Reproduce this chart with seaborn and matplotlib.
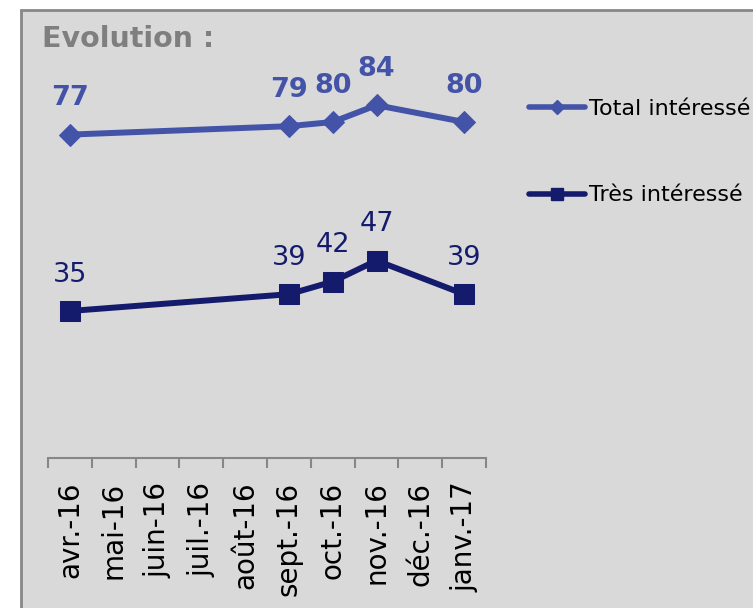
import numpy as np
import pandas as pd
import seaborn as sns
import matplotlib.pyplot as plt
from matplotlib.lines import Line2D
from matplotlib.patches import Rectangle


# Données
mois = ['avr.-16', 'mai-16', 'juin-16', 'juil.-16', 'août-16',
        'sept.-16', 'oct.-16', 'nov.-16', 'déc.-16', 'janv.-17']
mois_enquete = ['avr.-16', 'sept.-16', 'oct.-16', 'nov.-16', 'janv.-17']
total_interesse = [77, 79, 80, 84, 80]
tres_interesse = [35, 39, 42, 47, 39]

couleur_total = '#4353A8'
couleur_tres = '#151B6C'
fond = '#D9D9D9'
gris = '#878787'

df = pd.DataFrame({
    'x': [mois.index(m) for m in mois_enquete],
    'Total intéressé': total_interesse,
    'Très intéressé': tres_interesse,
})

sns.set_style('white')
plt.rcParams['font.family'] = ['DejaVu Sans']

W, H = 753, 608
fig = plt.figure(figsize=(W / 100, H / 100), dpi=100)
fig.patch.set_facecolor('white')

# cadre gris
fig.patches.append(Rectangle((20.5 / W, -0.1), 1.2, 1 - 10.5 / H + 0.1,
                             transform=fig.transFigure, facecolor=fond,
                             edgecolor=gris, linewidth=2, zorder=-10))

ax = fig.add_axes([48 / W, 1 - 458 / H, 438 / W, 420 / H])
ax.set_facecolor('none')
ax.set_zorder(5)

sns.lineplot(x='x', y='Total intéressé', data=df, ax=ax, color=couleur_total,
             marker='D', markersize=11.5, markeredgecolor=couleur_total,
             linewidth=4.3, solid_joinstyle='round')
sns.lineplot(x='x', y='Très intéressé', data=df, ax=ax, color=couleur_tres,
             marker='s', markersize=14, markeredgecolor=couleur_tres,
             linewidth=4.3, solid_joinstyle='round')

# étiquettes de valeurs
for xi, v in zip(df['x'], total_interesse):
    ax.annotate(str(v), (xi, v), xytext=(0, 26), textcoords='offset points',
                ha='center', va='center', fontsize=19.5, fontweight='bold',
                color=couleur_total)
for xi, v in zip(df['x'], tres_interesse):
    ax.annotate(str(v), (xi, v), xytext=(0, 26), textcoords='offset points',
                ha='center', va='center', fontsize=19.5, color=couleur_tres)

ax.set_xlim(-0.5, len(mois) - 0.5)
ax.set_ylim(0, 100)
ax.set_yticks([])
ax.set_xlabel('')
ax.set_ylabel('')

ax.set_xticks(range(len(mois)))
ax.set_xticklabels(mois, rotation=90, fontsize=20, color='black')
ax.tick_params(axis='x', which='major', length=0, pad=17)
ax.set_xticks(np.arange(-0.5, len(mois), 1), minor=True)
ax.tick_params(axis='x', which='minor', length=7.5, width=1.5, color=gris,
               direction='out', bottom=True)

for s in ['top', 'right', 'left']:
    ax.spines[s].set_visible(False)
ax.spines['bottom'].set_color(gris)
ax.spines['bottom'].set_linewidth(1.5)

# légende
handles = [
    Line2D([], [], color=couleur_total, lw=4, marker='D', markersize=7,
           solid_capstyle='round'),
    Line2D([], [], color=couleur_tres, lw=4, marker='s', markersize=9,
           solid_capstyle='round'),
]
leg = fig.legend(handles, ['Total intéressé', 'Très intéressé'],
                 loc='center left', bbox_to_anchor=(529 / W, 1 - 152 / H),
                 frameon=False, fontsize=16, handlelength=2.5, handletextpad=0.2,
                 labelspacing=3.0, borderpad=0, borderaxespad=0)
for t in leg.get_texts():
    t.set_color('black')

fig.text(42 / W, 1 - 39 / H, 'Evolution :', fontsize=20.5, fontweight='bold',
         color='#7F7F7F', ha='left', va='center')

fig.savefig('out.png', dpi=100)
